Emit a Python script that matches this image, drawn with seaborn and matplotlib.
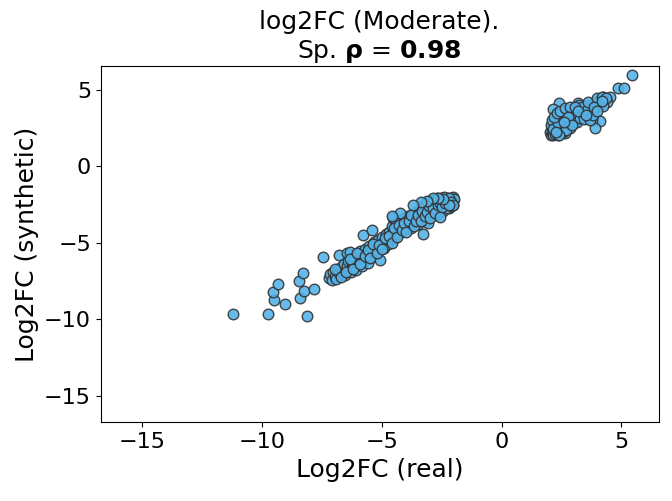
import pandas as pd
import matplotlib
matplotlib.use("Agg")
from matplotlib import pyplot as plt
import seaborn as sns

# lower cluster (down-regulated)
down_real = [
    -11.21, -9.75, -8.15, -9.51, -9.05, -9.54, -9.33, -8.43, -8.25, -7.84, -8.47, -8.29, -7.47, -6.79,
    -7.20, -7.15, -7.10, -7.05, -6.98, -6.90, -6.85, -6.80, -6.72, -6.65, -6.60, -6.55, -6.48, -6.45, -6.40,
    -6.34, -6.30, -6.25, -6.20, -6.15, -6.10, -6.06, -6.00, -5.95, -5.90, -5.85, -5.80, -5.78, -5.75, -5.70,
    -5.65, -5.60, -5.55, -5.50,
    -5.43, -5.45, -5.40, -5.35, -5.30, -5.25, -5.20, -5.15, -5.09, -5.05, -5.00, -4.95, -4.90, -4.85, -4.80,
    -4.75, -4.70, -4.67, -4.62, -4.58, -4.53, -4.50,
    -4.45, -4.40, -4.35, -4.30, -4.25, -4.20, -4.15, -4.10, -4.05, -3.97, -3.95, -3.90, -3.85, -3.80, -3.75,
    -3.70, -3.65, -3.60, -3.55, -3.49, -3.50,
    -3.45, -3.40, -3.35, -3.30, -3.28, -3.25, -3.20, -3.15, -3.10, -3.07, -3.05, -3.00, -2.95, -2.90, -2.85,
    -2.80, -2.75, -2.72, -2.70, -2.65, -2.60, -2.55, -2.50, -2.45, -2.40, -2.35, -2.30, -2.25, -2.20, -2.16,
    -2.12, -2.08, -2.05, -2.02, -2.03, -2.00, -2.40, -2.60, -2.90, -3.20, -2.30, -2.10, -2.55, -2.80,
    -6.95, -6.70, -6.50, -6.35, -6.20, -6.05, -5.90, -5.72, -5.58, -5.48, -5.38, -5.22, -5.12, -4.98,
    -4.88, -4.72, -4.60, -4.48, -4.38, -4.28, -4.18, -4.08, -3.98, -3.88, -3.78, -3.68, -3.58, -3.48,
    -3.38, -3.32, -3.22, -3.12, -3.02, -2.98, -2.88, -2.78, -2.68, -2.58, -2.48, -2.38, -2.28, -2.18,
    -2.10, -2.05, -2.22, -2.45, -2.65, -2.85, -3.10, -3.35, -3.70, -4.25, -4.60, -2.58,
]
down_synth = [
    -9.66, -9.68, -9.79, -8.77, -8.99, -8.22, -7.70, -8.62, -8.14, -8.05, -7.51, -7.00, -5.92, -5.83,
    -7.30, -7.05, -7.45, -6.90, -7.20, -7.35, -6.75, -7.00, -6.60, -6.85, -6.40, -7.10, -5.69, -6.55, -6.20,
    -5.59, -6.90, -6.35, -6.46, -6.00, -6.79, -6.35, -5.80, -6.20, -5.55, -6.55, -5.95, -4.50, -6.10, -5.40,
    -5.75, -6.30, -5.20, -5.60,
    -4.17, -5.90, -5.35, -4.95, -5.65, -5.10, -5.45, -4.80, -6.13, -5.25, -4.60, -5.00, -5.35, -4.45, -4.85,
    -5.10, -4.30, -4.82, -4.55, -3.90, -3.41, -4.70,
    -4.20, -3.75, -4.45, -4.00, -3.60, -4.30, -3.85, -3.40, -4.10, -3.96, -3.55, -3.25, -3.80, -4.05, -3.40,
    -3.10, -3.65, -3.30, -2.95, -3.47, -3.80,
    -3.10, -2.80, -3.35, -2.60, -4.43, -3.00, -3.60, -2.45, -2.85, -3.73, -3.20, -2.30, -2.65, -3.00, -2.20,
    -2.50, -2.85, -2.10, -3.20, -2.35, -2.65, -2.05, -2.45, -2.90, -2.20, -2.55, -2.05, -2.35, -2.70, -2.21,
    -2.45, -2.10, -2.30, -2.00, -2.55, -2.15, -2.00, -2.15, -2.40, -2.70, -2.75, -2.60, -2.30, -2.30,
    -6.70, -7.25, -6.90, -6.05, -6.70, -5.70, -6.40, -5.85, -5.45, -6.00, -5.05, -5.70, -5.15, -5.40,
    -4.70, -4.55, -5.00, -4.05, -4.60, -3.85, -4.15, -3.70, -4.30, -3.55, -3.20, -3.90, -3.55, -3.20,
    -3.55, -2.95, -3.25, -3.00, -2.60, -3.40, -2.75, -3.05, -2.55, -2.40, -2.65, -2.40, -2.20, -2.05,
    -2.35, -2.55, -2.50, -2.15, -2.10, -2.05, -2.25, -2.35, -2.54, -3.08, -3.26, -3.30,
]

# upper cluster (up-regulated)
up_real = [
    5.43, 4.87, 5.12, 4.52, 4.24, 2.40, 2.15, 3.18, 3.24, 4.10, 3.76, 3.90, 3.34,
    2.02, 2.05, 2.08, 2.10, 2.12, 2.15, 2.18, 2.20, 2.22, 2.25, 2.28, 2.30, 2.33, 2.36, 2.40, 2.43,
    2.46, 2.50, 2.53, 2.56, 2.60, 2.64, 2.68, 2.72, 2.76, 2.80, 2.85, 2.90, 2.95, 3.00, 3.05, 3.10,
    3.15, 3.22, 3.30, 3.38, 3.45, 3.52, 3.60, 3.68, 3.75, 3.82, 3.90, 3.98, 4.05, 4.15, 4.30, 4.40,
    2.05, 2.10, 2.15, 2.35,
    2.55, 2.70, 2.85, 3.00, 3.13, 3.25, 3.35, 3.45, 3.55, 3.62, 3.69, 3.80, 3.97, 4.17, 4.25, 4.35,
    2.20, 2.30, 2.45, 2.65, 2.85, 3.05, 2.75, 2.95, 2.40, 2.25, 2.60, 3.20, 3.50, 3.85, 4.00, 4.20,
]
up_synth = [
    5.98, 5.09, 5.09, 4.50, 4.54, 4.11, 3.72, 4.11, 4.00, 2.95, 3.02, 2.48, 3.41,
    2.25, 2.05, 2.50, 2.15, 2.80, 2.04, 2.35, 2.60, 2.10, 2.95, 2.40, 2.20, 2.70, 2.05, 2.50, 3.10,
    2.25, 2.80, 2.40, 3.30, 2.60, 2.15, 2.95, 3.40, 2.70, 3.10, 2.50, 3.25, 3.60, 2.90, 3.30, 3.70,
    3.05, 3.45, 3.80, 3.20, 3.60, 3.95, 3.40, 3.75, 4.05, 3.60, 4.20, 3.90, 4.25, 4.10, 4.35, 4.20,
    2.70, 3.00, 2.45, 2.85,
    2.25, 2.35, 2.80, 3.50, 2.91, 3.15, 3.90, 3.10, 3.65, 4.21, 3.02, 3.35, 4.44, 4.54, 3.95, 4.45,
    3.20, 3.50, 3.60, 3.80, 3.90, 3.85, 3.20, 2.70, 2.05, 2.25, 2.90, 3.60, 3.35, 3.85, 3.60, 4.25,
]

rho = 0.98

df = pd.DataFrame({
    "real": down_real + up_real,
    "synthetic": down_synth + up_synth,
})

fig, ax = plt.subplots(figsize=(6.72, 5.01), dpi=100)
sns.scatterplot(data=df, x="real", y="synthetic", ax=ax,
                color="#56B4E9", edgecolor="#333333", linewidth=1,
                s=58, alpha=0.9)

lims = (-16.74, 6.55)
ax.set_xlim(lims)
ax.set_ylim(lims)
ax.set_xticks([-15, -10, -5, 0, 5])
ax.set_yticks([-15, -10, -5, 0, 5])
ax.tick_params(labelsize=16)

ax.set_title("log2FC (Moderate).\nSp. $\\mathbf{\\rho}$ = $\\mathbf{%.2f}$" % rho, fontsize=18)
ax.set_xlabel("Log2FC (real)", fontsize=18)
ax.set_ylabel("Log2FC (synthetic)", fontsize=18)

plt.subplots_adjust(left=0.150, right=0.980, top=0.868, bottom=0.157)
plt.savefig("out.png", dpi=100)
